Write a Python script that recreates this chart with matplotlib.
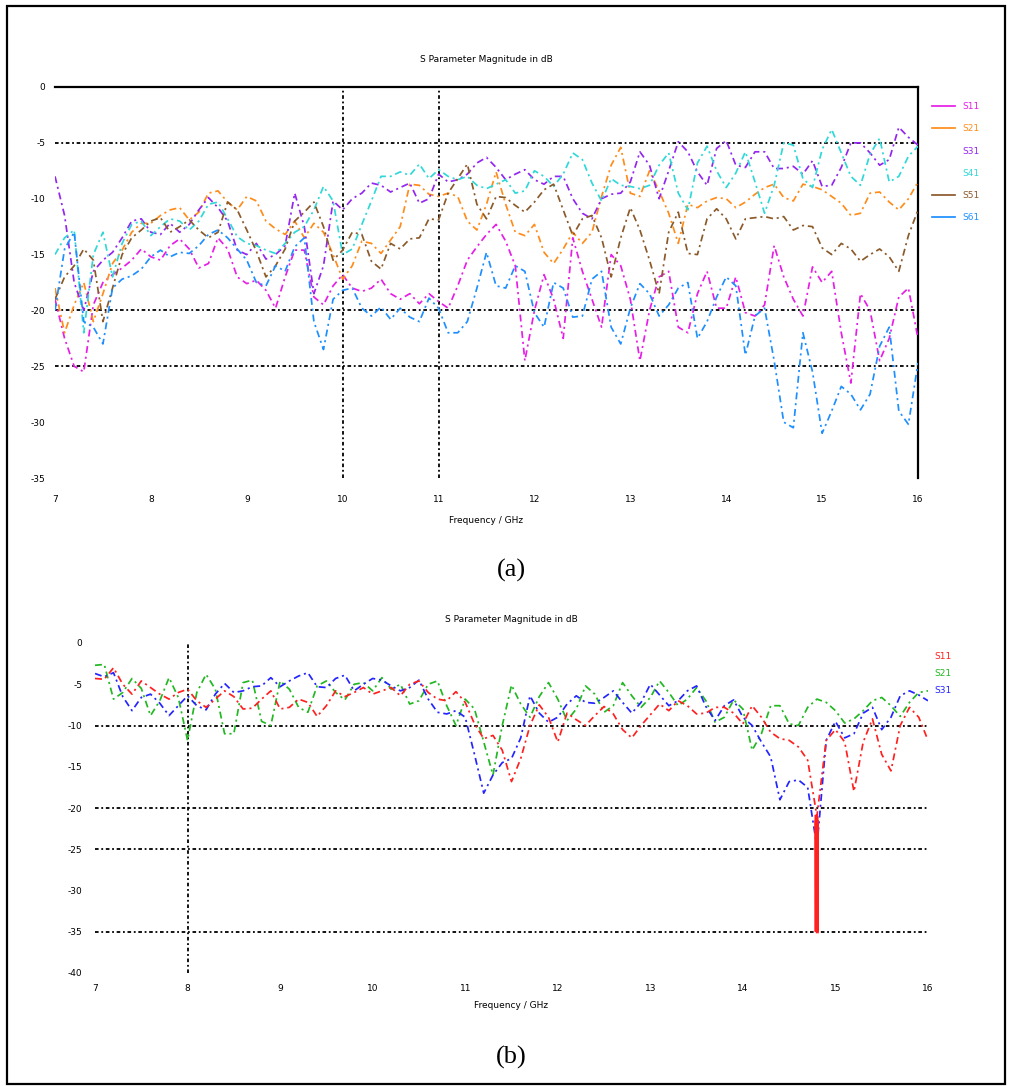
import numpy as np
import matplotlib
matplotlib.use("Agg")
import matplotlib.pyplot as plt
from matplotlib.patches import Rectangle

plt.rcParams["axes.unicode_minus"] = False

# frequency sweep (GHz), 0.1 GHz step
freq_ghz = [7.0, 7.1, 7.2, 7.3, 7.4, 7.5, 7.6, 7.7, 7.8, 7.9,
            8.0, 8.1, 8.2, 8.3, 8.4, 8.5, 8.6, 8.7, 8.8, 8.9,
            9.0, 9.1, 9.2, 9.3, 9.4, 9.5, 9.6, 9.7, 9.8, 9.9,
            10.0, 10.1, 10.2, 10.3, 10.4, 10.5, 10.6, 10.7, 10.8, 10.9,
            11.0, 11.1, 11.2, 11.3, 11.4, 11.5, 11.6, 11.7, 11.8, 11.9,
            12.0, 12.1, 12.2, 12.3, 12.4, 12.5, 12.6, 12.7, 12.8, 12.9,
            13.0, 13.1, 13.2, 13.3, 13.4, 13.5, 13.6, 13.7, 13.8, 13.9,
            14.0, 14.1, 14.2, 14.3, 14.4, 14.5, 14.6, 14.7, 14.8, 14.9,
            15.0, 15.1, 15.2, 15.3, 15.4, 15.5, 15.6, 15.7, 15.8, 15.9,
            16.0]

# ---- panel (a): six-port S parameters, dB ----
a_labels = ["S11", "S21", "S31", "S41", "S51", "S61"]
a_colors = ["#e61ee6", "#ff8c1a", "#9326f0", "#30d8d8", "#8b5a2b", "#1e8fff"]

s11_a = [-19.0, -22.5, -25.0, -25.5, -19.5, -17.5, -16.8, -16.2, -15.5, -14.5,
         -15.2, -15.5, -14.2, -13.6, -14.5, -16.2, -15.8, -13.5, -14.5, -17.0,
         -17.6, -17.3, -18.2, -19.8, -17.0, -14.6, -14.6, -18.8, -19.5, -17.8,
         -16.8, -18.0, -18.3, -18.0, -17.2, -18.5, -19.0, -18.5, -19.4, -18.5,
         -19.2, -19.8, -17.8, -15.5, -14.3, -13.2, -12.3, -13.8, -16.0, -24.5,
         -20.0, -16.8, -19.0, -22.5, -13.5, -16.5, -19.0, -21.5, -15.0, -16.0,
         -19.0, -24.5, -20.0, -17.0, -16.5, -21.5, -22.0, -18.5, -16.5, -19.8,
         -19.8, -17.0, -20.2, -20.5, -19.5, -14.2, -17.0, -19.0, -20.5, -16.1,
         -17.5, -16.5, -22.0, -26.5, -18.5, -20.0, -24.5, -22.5, -18.8, -18.0,
         -22.5]
s21_a = [-18.0, -22.0, -19.5, -17.5, -21.0, -18.5, -15.8, -14.6, -13.0, -12.2,
         -12.2, -11.5, -11.0, -10.8, -11.9, -11.2, -9.5, -9.3, -10.3, -11.0,
         -9.8, -10.2, -12.0, -12.7, -13.2, -12.0, -13.5, -12.2, -13.0, -15.0,
         -17.2, -16.0, -13.8, -14.0, -14.9, -13.7, -12.5, -8.7, -8.8, -9.6,
         -9.8, -9.5, -9.8, -12.0, -12.8, -10.5, -7.6, -10.5, -13.0, -13.3,
         -12.3, -14.8, -15.8, -14.5, -13.0, -14.0, -13.0, -9.8, -7.0, -5.4,
         -9.5, -9.8, -7.5, -9.3, -11.3, -14.0, -10.5, -10.8, -10.2, -9.9,
         -10.0, -10.8, -10.3, -9.6, -9.0, -8.7, -9.9, -10.2, -8.7, -8.9,
         -9.2, -9.8, -10.4, -11.5, -11.3, -9.5, -9.4, -10.3, -11.0, -10.0,
         -8.5]
s31_a = [-8.0, -11.5, -17.5, -20.0, -16.5, -15.5, -14.8, -13.5, -12.0, -11.8,
         -13.0, -13.2, -12.2, -13.0, -12.3, -11.0, -9.9, -10.8, -12.0, -14.6,
         -15.0, -14.0, -15.4, -15.0, -14.2, -9.5, -12.5, -18.5, -16.0, -10.2,
         -11.0, -10.0, -9.5, -8.6, -8.8, -9.4, -9.0, -8.6, -10.4, -10.0,
         -7.8, -8.5, -8.3, -7.8, -6.8, -6.3, -7.2, -8.3, -7.8, -7.4,
         -8.3, -8.7, -8.0, -8.0, -10.0, -11.3, -11.8, -10.0, -9.6, -9.5,
         -8.5, -5.8, -7.0, -10.0, -7.5, -4.9, -5.8, -7.6, -8.8, -5.5,
         -4.8, -7.0, -7.2, -5.8, -5.8, -7.3, -7.3, -7.1, -7.8, -6.6,
         -8.9, -8.8, -7.2, -5.0, -5.0, -5.9, -7.0, -6.5, -3.6, -4.5,
         -5.2]
s41_a = [-15.0, -13.5, -12.8, -22.0, -15.0, -13.0, -17.0, -14.0, -12.3, -12.0,
         -13.3, -12.5, -11.8, -12.0, -12.8, -12.0, -10.5, -10.3, -11.8, -13.4,
         -14.0, -14.2, -14.6, -14.9, -14.0, -13.0, -12.5, -11.0, -8.9, -10.2,
         -15.0, -14.5, -12.3, -10.2, -8.0, -8.0, -7.6, -7.9, -6.9, -8.2,
         -7.4, -8.0, -8.3, -8.0, -8.8, -9.1, -8.7, -8.3, -9.5, -9.3,
         -7.5, -8.0, -8.9, -7.8, -5.9, -6.5, -8.6, -10.2, -8.2, -8.8,
         -8.9, -9.1, -8.8, -7.0, -5.9, -9.5, -11.0, -6.8, -5.3, -7.5,
         -9.0, -7.7, -5.8, -8.5, -11.3, -8.8, -5.0, -5.2, -8.2, -9.0,
         -5.6, -3.8, -5.9, -8.0, -8.8, -6.0, -4.6, -8.5, -8.0, -6.2,
         -5.3]
s51_a = [-19.0, -17.0, -16.0, -14.5, -15.5, -21.0, -18.0, -15.0, -13.5, -12.8,
         -12.0, -11.7, -13.0, -12.5, -11.9, -12.8, -13.5, -13.0, -10.3, -11.0,
         -12.8, -14.7, -17.0, -16.0, -14.5, -12.0, -11.2, -10.3, -12.5, -15.5,
         -14.6, -13.0, -13.2, -15.6, -16.3, -14.0, -14.5, -13.6, -13.5, -11.8,
         -11.9, -9.5, -8.2, -6.9, -10.5, -11.8, -9.8, -9.9, -10.6, -11.2,
         -10.3, -9.2, -8.7, -11.0, -13.3, -11.8, -11.5, -13.5, -17.0, -13.5,
         -10.8, -12.8, -15.5, -18.5, -13.0, -11.2, -14.9, -15.0, -11.8, -10.9,
         -11.8, -13.6, -11.8, -11.7, -11.6, -11.8, -11.6, -12.8, -12.4, -12.5,
         -14.4, -15.0, -14.0, -14.5, -15.6, -15.0, -14.5, -15.2, -16.5, -13.3,
         -11.0]
s61_a = [-20.0, -14.5, -13.0, -21.0, -21.5, -23.0, -18.0, -17.2, -16.9, -16.3,
         -15.2, -14.6, -15.2, -14.8, -14.9, -14.2, -13.2, -12.8, -13.5, -14.5,
         -15.5, -17.5, -17.8, -16.0, -16.5, -14.3, -13.5, -21.0, -23.5, -19.0,
         -18.2, -18.0, -19.8, -20.5, -19.7, -20.8, -19.8, -20.6, -21.0, -18.9,
         -19.8, -22.0, -22.0, -21.0, -18.0, -14.8, -17.8, -18.0, -16.0, -16.5,
         -20.2, -21.5, -17.5, -18.0, -20.6, -20.5, -17.2, -16.5, -21.5, -23.0,
         -19.8, -17.6, -18.5, -20.5, -19.5, -18.0, -17.5, -22.5, -21.0, -18.8,
         -17.0, -17.8, -24.0, -20.5, -19.8, -24.5, -30.0, -30.5, -22.0, -25.5,
         -31.0, -29.0, -26.8, -27.5, -28.9, -27.5, -23.2, -21.5, -29.0, -30.2,
         -24.7]
a_series = [s11_a, s21_a, s31_a, s41_a, s51_a, s61_a]

a_yticks = [0, -5, -10, -15, -20, -25, -30, -35]
a_xticks = [7, 8, 9, 10, 11, 12, 13, 14, 15, 16]
a_hmarks = [-5, -20, -25]
a_vmarks = [10, 11]

# ---- panel (b): three-port S parameters, dB ----
b_labels = ["S11", "S21", "S31"]
b_colors = ["#ff2020", "#22b822", "#2424ff"]

s11_b = [-4.3, -4.4, -3.0, -5.0, -6.2, -4.6, -5.4, -6.2, -6.8, -6.0,
         -5.6, -7.0, -7.8, -6.8, -5.8, -6.5, -8.0, -7.9, -6.8, -5.8,
         -8.0, -7.8, -6.8, -7.2, -8.9, -7.6, -5.8, -6.5, -6.0, -5.4,
         -6.2, -5.8, -5.4, -6.4, -5.0, -4.6, -6.0, -6.8, -7.0, -5.9,
         -7.2, -9.8, -11.6, -11.2, -13.0, -16.8, -14.0, -10.0, -7.5, -9.0,
         -12.0, -8.5, -9.3, -10.0, -8.8, -7.7, -8.6, -10.5, -11.5, -10.0,
         -8.7, -7.4, -8.2, -7.0, -7.6, -8.6, -8.5, -7.8, -7.8, -8.5,
         -9.8, -7.6, -9.0, -10.8, -11.6, -11.8, -12.6, -14.2, -21.0, -11.8,
         -10.5, -12.0, -18.0, -12.0, -9.2, -13.5, -15.5, -10.0, -7.8, -9.0,
         -11.8]
s21_b = [-2.7, -2.6, -6.8, -6.0, -4.3, -5.5, -8.8, -7.0, -4.2, -6.6,
         -11.8, -6.0, -3.8, -5.6, -11.0, -11.0, -4.8, -4.5, -9.5, -10.0,
         -4.6, -5.6, -7.8, -8.4, -5.2, -4.6, -6.0, -6.9, -5.0, -4.8,
         -5.8, -4.2, -5.6, -5.0, -7.4, -7.0, -5.0, -4.6, -7.6, -10.0,
         -6.8, -8.0, -12.0, -16.0, -10.0, -5.1, -7.4, -9.0, -6.5, -4.8,
         -6.8, -9.4, -8.0, -5.2, -6.2, -8.4, -7.6, -4.8, -6.4, -7.8,
         -6.6, -4.6, -6.0, -7.6, -6.8, -5.4, -7.0, -9.6, -9.0, -6.9,
         -8.0, -13.0, -11.0, -7.6, -7.6, -9.8, -10.0, -7.8, -6.8, -7.2,
         -8.2, -9.7, -9.2, -8.2, -7.0, -6.6, -7.6, -8.9, -7.2, -6.0,
         -5.8]
s31_b = [-3.7, -4.1, -3.6, -6.5, -8.2, -6.6, -6.2, -7.3, -8.8, -7.6,
         -6.4, -7.6, -8.1, -6.2, -4.9, -6.0, -5.8, -5.3, -5.2, -4.2,
         -5.3, -4.6, -4.0, -3.6, -5.3, -5.4, -4.3, -3.9, -5.8, -5.0,
         -4.3, -4.5, -5.2, -5.8, -5.4, -4.5, -6.8, -8.4, -8.6, -8.2,
         -9.0, -13.5, -18.2, -16.0, -14.5, -14.0, -11.5, -6.4, -8.5, -9.6,
         -9.0, -7.4, -6.4, -7.2, -7.3, -6.6, -5.8, -7.2, -8.5, -7.2,
         -5.0, -6.3, -7.6, -7.0, -5.8, -5.2, -7.7, -9.4, -7.6, -6.9,
         -9.0, -10.0, -12.0, -13.8, -19.0, -16.8, -16.6, -17.5, -24.7, -11.8,
         -9.5, -11.5, -11.0, -8.5, -7.8, -10.5, -9.0, -6.4, -5.8, -6.3,
         -7.0]
b_series = [s11_b, s21_b, s31_b]

# narrow resonance of S11 near 14.8 GHz (dense sweep points, drawn solid)
spike_f = [14.790, 14.792, 14.794, 14.796, 14.798, 14.800, 14.802, 14.804]
spike_s11 = [-21.0, -35.0, -21.5, -35.0, -21.0, -34.5, -21.5, -35.0]

b_yticks = [0, -5, -10, -15, -20, -25, -30, -35, -40]
b_xticks = [7, 8, 9, 10, 11, 12, 13, 14, 15, 16]
b_hmarks = [-10, -20, -25, -35]
b_vmarks = [8]

title_txt = "S Parameter Magnitude in dB"
xlabel_txt = "Frequency / GHz"

W, H = 1012, 1086
fig = plt.figure(figsize=(W / 100, H / 100), dpi=100)
fig.patch.set_facecolor("white")

mark_style = dict(color="black", lw=1.3, linestyle=(0, (2, 1.5, 1, 1.5)), zorder=1)
curve_ls = (0, (4, 2.2, 1.2, 2.2))
small = 6.5

# panel (a)
ax1 = fig.add_axes([55 / W, 1 - 478 / H, 863 / W, 391 / H])
for vals, lab, col in zip(a_series, a_labels, a_colors):
    ax1.plot(freq_ghz, vals, color=col, lw=1.25, linestyle=curve_ls, label=lab, zorder=3)
for h in a_hmarks:
    ax1.axhline(h, **mark_style)
for v in a_vmarks:
    ax1.axvline(v, **mark_style)
ax1.set_xlim(7, 16)
ax1.set_ylim(-35, 0)
ax1.set_xticks(a_xticks)
ax1.set_yticks(a_yticks)
ax1.tick_params(length=0, labelsize=small)
ax1.tick_params(axis="x", pad=12)
ax1.tick_params(axis="y", pad=7)
for s in ["left", "bottom"]:
    ax1.spines[s].set_visible(False)
for s in ["top", "right"]:
    ax1.spines[s].set_linewidth(1.6)
ax1.set_title(title_txt, fontsize=small, pad=18)
ax1.set_xlabel(xlabel_txt, fontsize=small, labelpad=9)
leg1 = ax1.legend(loc="upper left", bbox_to_anchor=(1.012, 0.97), frameon=False,
                  fontsize=small, handlelength=2.6, labelspacing=1.45,
                  labelcolor="linecolor", borderaxespad=0)
for hnd in leg1.legend_handles:
    hnd.set_linestyle("-")
leg1.legend_handles[2].set_visible(False)
leg1.legend_handles[3].set_visible(False)

# panel (b)
ax2 = fig.add_axes([95 / W, 1 - 973 / H, 833 / W, 330 / H])
for k, (vals, lab, col) in enumerate(zip(b_series, b_labels, b_colors)):
    ax2.plot(freq_ghz, vals, color=col, lw=1.25, linestyle=curve_ls, label=lab,
             zorder=3 + (2 if k == 0 else 0))
ax2.plot(spike_f, spike_s11, color=b_colors[0], lw=2.2, solid_joinstyle="miter", zorder=6)
for h in b_hmarks:
    ax2.axhline(h, **mark_style)
for v in b_vmarks:
    ax2.axvline(v, **mark_style)
ax2.set_xlim(7, 16)
ax2.set_ylim(-40, 0)
ax2.set_xticks(b_xticks)
ax2.set_yticks(b_yticks)
ax2.tick_params(length=0, labelsize=small)
ax2.tick_params(axis="x", pad=8)
ax2.tick_params(axis="y", pad=9)
for s in ax2.spines.values():
    s.set_visible(False)
ax2.set_title(title_txt, fontsize=small, pad=15)
ax2.set_xlabel(xlabel_txt, fontsize=small, labelpad=6)
leg2 = ax2.legend(loc="upper left", bbox_to_anchor=(1.003, 0.985), frameon=False,
                  fontsize=small, handlelength=0, handletextpad=0, labelspacing=0.9,
                  labelcolor="linecolor", borderaxespad=0)
for hnd in leg2.legend_handles:
    hnd.set_visible(False)

# captions
fig.text(511 / W, 1 - 570 / H, "(a)", ha="center", va="center",
         family="Liberation Serif", fontsize=19)
fig.text(511 / W, 1 - 1057 / H, "(b)", ha="center", va="center",
         family="Liberation Serif", fontsize=19)

# outer frame
fig.patches.append(Rectangle((7 / W, 2 / H), 998 / W, 1078 / H, transform=fig.transFigure,
                             fill=False, edgecolor="black", lw=1.6))

fig.savefig("out.png", dpi=100, facecolor="white")
